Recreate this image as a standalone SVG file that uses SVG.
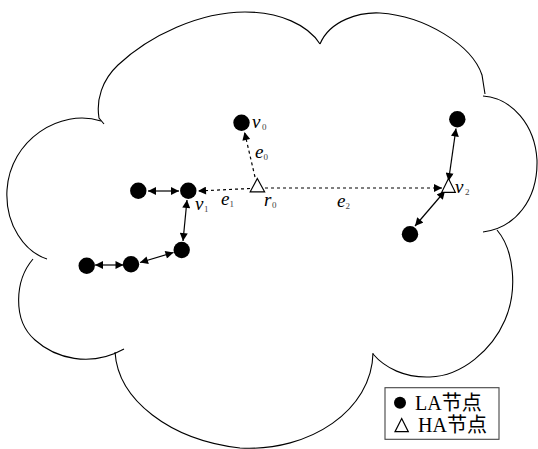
<svg xmlns="http://www.w3.org/2000/svg" width="538" height="449" viewBox="0 0 538 449">
<style>
.cloud{fill:none;stroke:#000;stroke-width:1.1}
.node{fill:#000}
.ha{fill:#fff;stroke:#000;stroke-width:1.2}
.solid{fill:none;stroke:#000;stroke-width:1.2}
.dash{fill:none;stroke:#000;stroke-width:1.2;stroke-dasharray:3 3}
.m{font-family:"Liberation Serif",serif;font-style:italic;font-size:19px;fill:#000}
.sub{font-family:"Liberation Serif",serif;font-size:9px;fill:#444}
.leg{font-family:"Liberation Serif","Noto Sans CJK SC",serif;font-size:20px;fill:#000}
</style>
<defs>
<marker id="ah" viewBox="0 0 10 10" refX="10" refY="5" markerWidth="9" markerHeight="8" markerUnits="userSpaceOnUse" orient="auto-start-reverse">
<path d="M0,0 L10,5 L0,10 z" fill="#000"/>
</marker>
</defs>
<g id="cloud">
<path class="cloud" d="M101,121 C60,108 10,140 7,190 C5,225 25,252 47,259"/>
<path class="cloud" d="M104,124 L99,118 C96,100 102,80 118,65 C150,35 200,12 245,12 C280,12 308,25 320,44"/>
<path class="cloud" d="M320,44 C330,20 360,12 380,13 C425,16 472,45 482,75 L485,94"/>
<path class="cloud" d="M483,96 C512,98 535,125 537,160 C538,200 515,228 483,232"/>
<path class="cloud" d="M497,230 C514,250 518,290 505,320 C492,350 462,376 430,377 C405,378 385,368 373,354"/>
<path class="cloud" d="M115,352 C118,400 170,440 240,448 C310,452 372,410 373,353"/>
<path class="cloud" d="M33,259 C15,280 12,320 35,340 C55,358 90,368 124,349"/>
</g>
<g id="connectors">
<line class="dash" x1="255" y1="177" x2="244.5" y2="132" marker-end="url(#ah)"/>
<line class="dash" x1="250" y1="188.5" x2="198" y2="191" marker-end="url(#ah)"/>
<line class="dash" x1="265" y1="188" x2="442" y2="188" marker-end="url(#ah)"/>
<line class="solid" x1="148" y1="191" x2="179" y2="191" marker-start="url(#ah)" marker-end="url(#ah)"/>
<line class="solid" x1="187" y1="200" x2="183" y2="241" marker-start="url(#ah)" marker-end="url(#ah)"/>
<line class="solid" x1="173.5" y1="252.5" x2="140" y2="262.5" marker-start="url(#ah)" marker-end="url(#ah)"/>
<line class="solid" x1="123.5" y1="265" x2="95" y2="265" marker-start="url(#ah)" marker-end="url(#ah)"/>
<line class="solid" x1="456" y1="128.5" x2="448.5" y2="181" marker-start="url(#ah)" marker-end="url(#ah)"/>
<line class="solid" x1="445" y1="191" x2="415" y2="226" marker-start="url(#ah)" marker-end="url(#ah)"/>
</g>
<g id="v0"><circle class="node" cx="241.5" cy="122.7" r="8.2"/><text class="m" x="252" y="128">v</text><text class="sub" x="262" y="130">0</text></g>
<g id="r0"><polygon class="ha" points="257.3,178.5 250.2,191.8 264.6,191.8"/><text class="m" x="264" y="206">r</text><text class="sub" x="272" y="208">0</text></g>
<g id="v1"><circle class="node" cx="188.3" cy="190.7" r="8.2"/><text class="m" x="195" y="210">v</text><text class="sub" x="204" y="212">1</text></g>
<g id="v2"><polygon class="ha" points="448.5,178.5 441.7,192.3 455.3,192.3"/><text class="m" x="455" y="193">v</text><text class="sub" x="465" y="195">2</text></g>
<g id="la1"><circle class="node" cx="138.3" cy="190.7" r="8.2"/></g>
<g id="la2"><circle class="node" cx="181.7" cy="250" r="8.2"/></g>
<g id="la3"><circle class="node" cx="131" cy="264.3" r="8.2"/></g>
<g id="la4"><circle class="node" cx="86.7" cy="265.7" r="8.2"/></g>
<g id="la5"><circle class="node" cx="457.3" cy="119.3" r="8.2"/></g>
<g id="la6"><circle class="node" cx="410" cy="234.3" r="8.2"/></g>
<g id="labels">
<text class="m" x="255" y="158">e</text><text class="sub" x="263.5" y="160">0</text>
<text class="m" x="221" y="205">e</text><text class="sub" x="229.5" y="207">1</text>
<text class="m" x="337" y="207">e</text><text class="sub" x="345.5" y="209">2</text>
</g>
<g id="legend">
<rect x="385" y="387.7" width="114" height="51.6" fill="#fff" stroke="#444" stroke-width="1.1"/>
<circle class="node" cx="400" cy="402.7" r="6"/>
<text class="leg" x="415" y="409.5">LA节点</text>
<polygon class="ha" points="401.7,418.5 395,431.7 408.3,431.7"/>
<text class="leg" x="418" y="432">HA节点</text>
</g>
</svg>
